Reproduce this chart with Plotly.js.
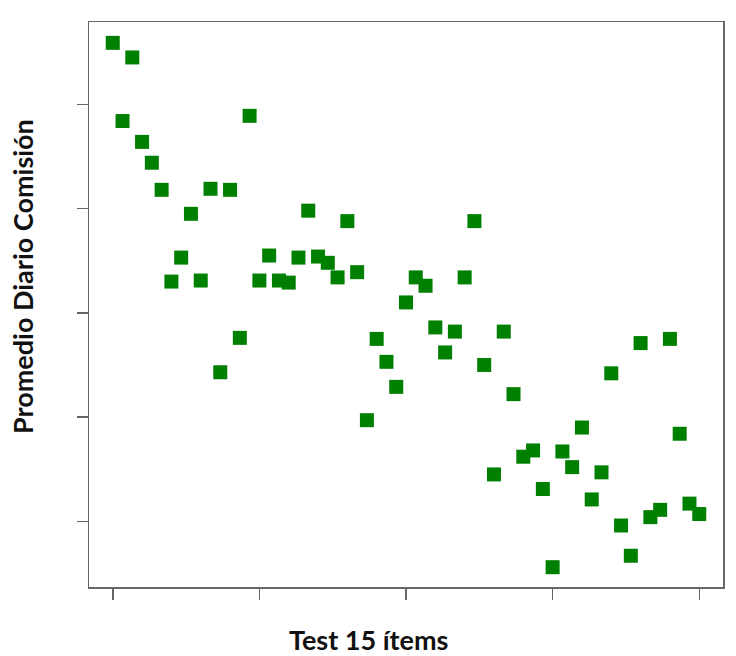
<!DOCTYPE html>
<html>
<head>
<meta charset="utf-8">
<script src="https://cdn.plot.ly/plotly-3.0.1.min.js"></script>
<style>
  html, body { margin: 0; padding: 0; background: #ffffff; }
  #chart { width: 736px; height: 656px; }
</style>
</head>
<body>
<div id="chart"></div>
<script>
// Test score (x) for each observation
const testScores = [
  0, 1, 2, 3, 4, 5, 6, 7, 8, 9,
  10, 11, 12, 13, 14, 15, 16, 17, 18, 19,
  20, 21, 22, 23, 24, 25, 26, 27, 28, 29,
  30, 31, 32, 33, 34, 35, 36, 37, 38, 39,
  40, 41, 42, 43, 44, 45, 46, 47, 48, 49,
  50, 51, 52, 53, 54, 55, 56, 57, 58, 59, 60
];
// Average daily commission (y)
const dailyCommission = [
  55.9, 48.4, 54.5, 46.4, 44.4, 41.8, 33.0, 35.3, 39.5, 33.1,
  41.9, 24.3, 41.8, 27.6, 48.9, 33.1, 35.5, 33.1, 32.9, 35.3,
  39.8, 35.4, 34.8, 33.4, 38.8, 33.9, 19.7, 27.5, 25.3, 22.9,
  31.0, 33.4, 32.6, 28.6, 26.2, 28.2, 33.4, 38.8, 25.0, 14.5,
  28.2, 22.2, 16.2, 16.8, 13.1, 5.6, 16.7, 15.2, 19.0, 12.1,
  14.7, 24.2, 9.6, 6.7, 27.1, 10.4, 11.1, 27.5, 18.4, 11.7, 10.7
];
const xTicks = [0, 15, 30, 45, 60];
const yTicks = [10, 20, 30, 40, 50];
const xTitle = 'Test 15 ítems';
const yTitle = 'Promedio Diario Comisión';

const frameColor = '#666666';
const titleFont = { family: 'Lato, "Open Sans", sans-serif', size: 27, color: '#111111', weight: 'bold' };

const trace = {
  type: 'scatter',
  mode: 'markers',
  x: testScores,
  y: dailyCommission,
  marker: { symbol: 'square', size: 14, color: '#008000', line: { width: 0 } },
  hoverinfo: 'x+y'
};

const axisCommon = {
  showticklabels: false,
  ticks: 'outside',
  ticklen: 11,
  tickwidth: 1.5,
  tickcolor: frameColor,
  showgrid: false,
  zeroline: false,
  showline: true,
  mirror: true,
  linecolor: frameColor,
  linewidth: 1.5,
  automargin: false
};

const layout = {
  width: 736,
  height: 656,
  paper_bgcolor: '#ffffff',
  plot_bgcolor: '#ffffff',
  showlegend: false,
  margin: { l: 89, r: 13, t: 22, b: 69, pad: 0 },
  xaxis: Object.assign({ range: [-2.43, 62.43], tickvals: xTicks }, axisCommon),
  yaxis: Object.assign({ range: [3.7, 57.9], tickvals: yTicks }, axisCommon),
  annotations: [
    {
      text: xTitle, xref: 'paper', yref: 'paper',
      x: 0.4416, y: -0.0938, xanchor: 'center', yanchor: 'middle',
      showarrow: false, font: titleFont
    },
    {
      text: yTitle, xref: 'paper', yref: 'paper',
      x: -0.1057, y: 0.5504, xanchor: 'center', yanchor: 'middle',
      textangle: -90, showarrow: false, font: titleFont
    }
  ]
};

Plotly.newPlot('chart', [trace], layout, { staticPlot: true, displayModeBar: false });
</script>
</body>
</html>
